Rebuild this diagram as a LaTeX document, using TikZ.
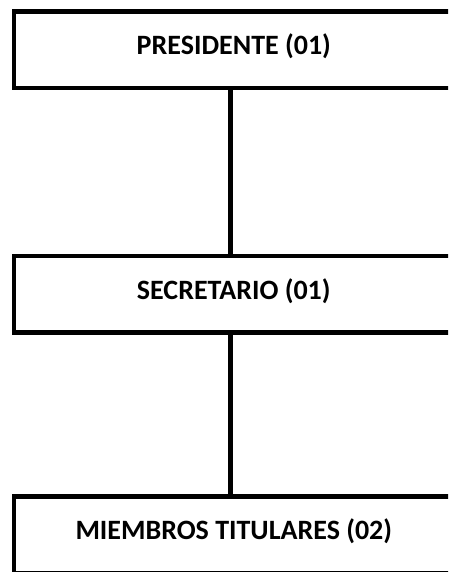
\documentclass[tikz,border=0pt]{standalone}
\usepackage{fontspec}
\setmainfont{Carlito}
\begin{document}
\begin{tikzpicture}[x=1pt,y=-1pt,
  orgbox/.style={draw=black, line width=4.6pt, fill=white, minimum width=440pt, minimum height=76.5pt, inner sep=0pt, text height=19.5pt, text depth=10pt, font=\bfseries\fontsize{28}{32}\selectfont, anchor=west},
  link/.style={draw=black, line width=4.6pt}]
\useasboundingbox (0,0) rectangle (448,572);
\clip (0,0) rectangle (448,572);
\node[orgbox] (pres) at (11.5,49.75) {PRESIDENTE (01)};
\node[orgbox] (sec) at (11.5,294.25) {SECRETARIO (01)};
\node[orgbox] (miem) at (11.5,534.75) {MIEMBROS TITULARES (02)};
\draw[link] (pres.south -| 230.5,0) -- (sec.north -| 230.5,0);
\draw[link] (sec.south -| 230.5,0) -- (miem.north -| 230.5,0);
\end{tikzpicture}
\end{document}
